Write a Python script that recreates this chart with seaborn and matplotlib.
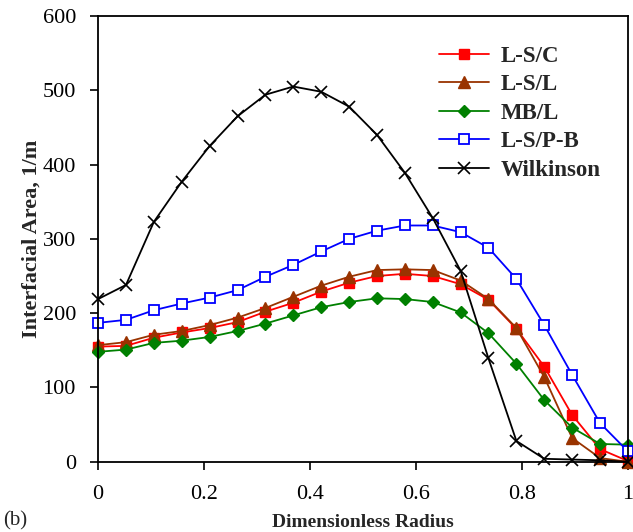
import numpy as np
import pandas as pd
import seaborn as sns
import matplotlib.pyplot as plt

# dimensionless radius, 20 points from 0 to 1
radius = [0.0, 0.0526, 0.1053, 0.1579, 0.2105, 0.2632, 0.3158, 0.3684, 0.4211, 0.4737,
          0.5263, 0.5789, 0.6316, 0.6842, 0.7368, 0.7895, 0.8421, 0.8947, 0.9474, 1.0]

ls_c = [155, 156, 167, 174, 180, 188, 202, 214, 229, 241,
        250, 253, 250, 239, 218, 179, 128, 63, 17, 1]
ls_l = [157, 161, 171, 176, 184, 194, 207, 222, 237, 249,
        258, 259, 258, 244, 219, 180, 114, 32, 5, 0]
mb_l = [148, 151, 160, 163, 168, 176, 186, 197, 208, 215,
        220, 219, 215, 201, 173, 132, 83, 46, 24, 23]
ls_pb = [187, 191, 204, 213, 221, 231, 249, 265, 283, 300,
         311, 318, 318, 309, 288, 246, 184, 117, 52, 14]
wilkinson = [219, 238, 323, 377, 425, 465, 494, 505, 498, 478,
             440, 389, 328, 257, 139, 28, 4, 3, 2, 0]

series = ['L-S/C', 'L-S/L', 'MB/L', 'L-S/P-B', 'Wilkinson']

sns.set_style('ticks')
plt.rcParams['font.family'] = ['Liberation Serif', 'DejaVu Serif']

fig = plt.figure(figsize=(6.33, 5.32), dpi=100)
ax = fig.add_axes([0.155, 0.132, 0.837, 0.838])

styles = {
    'L-S/C': dict(color='#ff0000', marker='s', markersize=7, markerfacecolor='#ff0000'),
    'L-S/L': dict(color='#993300', marker='^', markersize=8, markerfacecolor='#993300'),
    'MB/L': dict(color='#008000', marker='D', markersize=6.5, markerfacecolor='#008000'),
    'L-S/P-B': dict(color='#0000ff', marker='s', markersize=7.5, markerfacecolor='white',
                    markeredgewidth=1.3),
    'Wilkinson': dict(color='black', marker='x', markersize=9, markeredgewidth=1.2),
}
values = {'L-S/C': ls_c, 'L-S/L': ls_l, 'MB/L': mb_l, 'L-S/P-B': ls_pb, 'Wilkinson': wilkinson}

for name in series:
    df = pd.DataFrame({'r': radius, 'a': values[name]})
    st = styles[name]
    sns.lineplot(data=df, x='r', y='a', ax=ax, label=name, color=st['color'],
                 marker=st['marker'], markersize=st['markersize'],
                 markerfacecolor=st.get('markerfacecolor', st['color']),
                 markeredgecolor=st['color'], markeredgewidth=st.get('markeredgewidth', 1),
                 linewidth=1.3, clip_on=False)

ax.set_xlim(0, 1)
ax.set_ylim(0, 600)
ax.set_xticks([0, 0.2, 0.4, 0.6, 0.8, 1])
ax.set_xticklabels(['0', '0.2', '0.4', '0.6', '0.8', '1'])
ax.set_yticks(range(0, 601, 100))
ax.tick_params(axis='both', labelsize=16, direction='out', length=6, width=1.2, colors='black')
ax.tick_params(axis='x', pad=11)
ax.tick_params(axis='y', pad=10)
for s in ax.spines.values():
    s.set_linewidth(1.3)
    s.set_color('black')

ax.set_xlabel('Dimensionless Radius', fontsize=14, fontweight='bold', labelpad=7)
ax.set_ylabel('Interfacial Area, 1/m', fontsize=16, fontweight='bold', labelpad=1)
fig.text(0.005, 0.012, '(b)', fontsize=15)

ax.legend(loc='upper right', bbox_to_anchor=(0.988, 0.98), frameon=False,
          prop={'weight': 'bold', 'size': 16.5}, handlelength=2.2, labelspacing=0.33,
          handletextpad=0.5)

fig.savefig('out.png', dpi=100)
